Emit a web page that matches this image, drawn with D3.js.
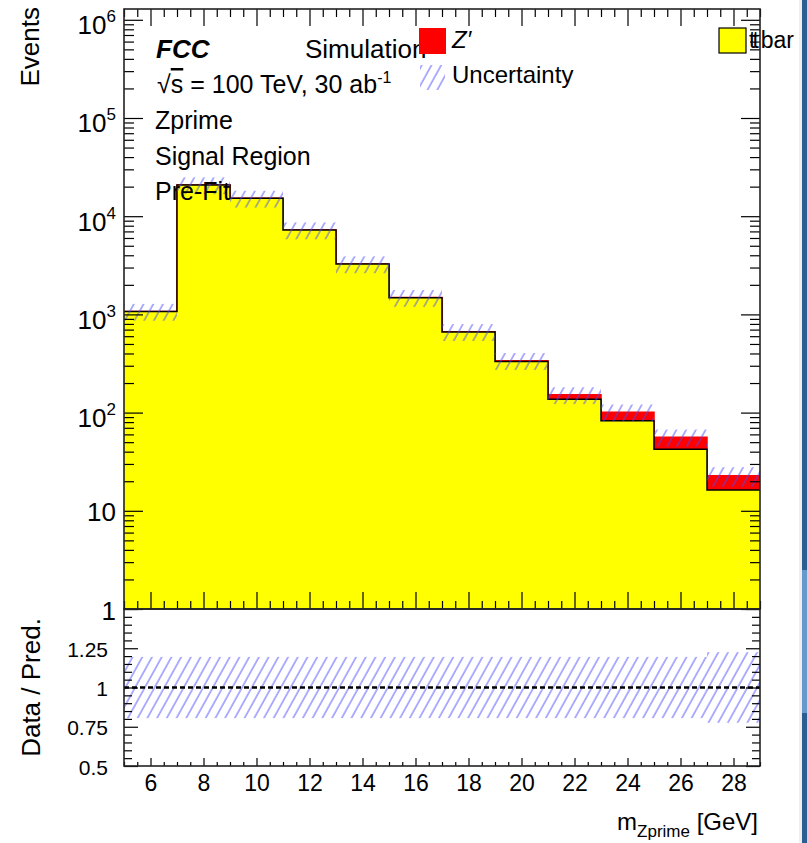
<!DOCTYPE html>
<html>
<head>
<meta charset="utf-8">
<script src="https://cdn.jsdelivr.net/npm/d3@7"></script>
<style>
  body { margin: 0; background: #fff; }
  svg { display: block; font-family: "Liberation Sans", Arial, Helvetica, sans-serif; }
</style>
</head>
<body>
<svg id="chart" width="807" height="843"></svg>
<script>
// ---- histogram content (bin edges in GeV, event yields per bin) ----
const binEdges = [5, 7, 9, 11, 13, 15, 17, 19, 21, 23, 25, 27, 29];
const ttbarYield = [1070, 20800, 15200, 7230, 3260, 1480, 662, 331, 137, 82.8, 42.3, 16.3];
const zprimeYield = [0.3, 0.6, 1.0, 1.3, 1.8, 2.5, 4, 7, 14.6, 18.3, 13.9, 6.4];
const relUncertainty = [0.195, 0.195, 0.195, 0.195, 0.195, 0.195, 0.195, 0.195, 0.195, 0.195, 0.195, 0.225];

// ---- axis ticks ----
const xMajorTicks = [6, 8, 10, 12, 14, 16, 18, 20, 22, 24, 26, 28];
const yMajorTicks = [1, 10, 100, 1e3, 1e4, 1e5, 1e6];
const ratioMajorTicks = [0.5, 0.75, 1, 1.25, 1.5];
const ratioTickLabels = ["0.5", "0.75", "1", "1.25", ""];

// ---- text ----
const infoLines = ["Zprime", "Signal Region", "Pre-Fit"];
const legendLabels = { zprime: "Z\u2032", unc: "Uncertainty", ttbar: "bar" };

const svg = d3.select("#chart");
svg.append("rect").attr("width", 807).attr("height", 843).attr("fill", "#fff");

// panel geometry
const L = 124, R = 760, mainTop = 9, mainBot = 609, ratioBot = 766;

const x = d3.scaleLinear().domain([5, 29]).range([L, R]);
const y = d3.scaleLog().domain([1, 1.288e6]).range([mainBot, mainTop]);
const yr = d3.scaleLinear().domain([0.5, 1.5]).range([ratioBot, mainBot]);

// hatch pattern for the uncertainty band
const defs = svg.append("defs");
defs.append("pattern")
  .attr("id", "hatch").attr("patternUnits", "userSpaceOnUse")
  .attr("width", 8.5).attr("height", 10)
  .attr("patternTransform", "rotate(29)")
  .append("line")
  .attr("x1", 1).attr("y1", 0).attr("x2", 1).attr("y2", 10)
  .attr("stroke", "#4848ff").attr("stroke-width", 0.9);
defs.append("clipPath").attr("id", "clipMain")
  .append("rect").attr("x", L).attr("y", mainTop).attr("width", R - L).attr("height", mainBot - mainTop);
defs.append("clipPath").attr("id", "clipRatio")
  .append("rect").attr("x", L).attr("y", mainBot).attr("width", R - L).attr("height", ratioBot - mainBot);

// step-shaped point list for a binned histogram
function stepPoints(vals) {
  const pts = [];
  vals.forEach((v, i) => { pts.push([binEdges[i], v]); pts.push([binEdges[i + 1], v]); });
  return pts;
}
const totalYield = ttbarYield.map((v, i) => v + zprimeYield[i]);

const area = d3.area().x(d => x(d[0])).y0(y(1)).y1(d => y(d[1]));
const line = d3.line().x(d => x(d[0])).y(d => y(d[1]));

const gMain = svg.append("g").attr("clip-path", "url(#clipMain)");
// stacked histogram: total (Z' on top) then ttbar
gMain.append("path").datum(stepPoints(totalYield)).attr("d", area).attr("fill", "#ff0000");
gMain.append("path").datum(stepPoints(totalYield)).attr("d", line)
  .attr("fill", "none").attr("stroke", "#ff0000").attr("stroke-width", 1.5);
gMain.append("path").datum(stepPoints(ttbarYield)).attr("d", area).attr("fill", "#ffff00");
gMain.append("path").datum(stepPoints(ttbarYield)).attr("d", line)
  .attr("fill", "none").attr("stroke", "#000").attr("stroke-width", 1.5);

// uncertainty band on the total prediction
gMain.selectAll("rect.unc").data(totalYield).join("rect").attr("class", "unc")
  .attr("x", (d, i) => x(binEdges[i]))
  .attr("width", (d, i) => x(binEdges[i + 1]) - x(binEdges[i]))
  .attr("y", (d, i) => y(d * (1 + relUncertainty[i])))
  .attr("height", (d, i) => y(d * (1 - relUncertainty[i])) - y(d * (1 + relUncertainty[i])))
  .attr("fill", "url(#hatch)");

// ratio panel
const gRatio = svg.append("g").attr("clip-path", "url(#clipRatio)");
gRatio.selectAll("rect.unc").data(relUncertainty).join("rect").attr("class", "unc")
  .attr("x", (d, i) => x(binEdges[i]))
  .attr("width", (d, i) => x(binEdges[i + 1]) - x(binEdges[i]))
  .attr("y", d => yr(1 + d))
  .attr("height", d => yr(1 - d) - yr(1 + d))
  .attr("fill", "url(#hatch)");
gRatio.append("path")
  .datum([[5, 1], [29, 1]])
  .attr("d", d3.line().x(d => x(d[0])).y(d => yr(d[1])))
  .attr("stroke", "#000").attr("stroke-width", 2.5).attr("stroke-dasharray", "5,3").attr("fill", "none");

// ---- axes ----
function styleAxis(g) {
  g.select(".domain").remove();
  g.selectAll(".tick line").attr("stroke", "#000").attr("stroke-width", 1.2);
  g.attr("font-family", null).attr("font-size", null);
}
const noLabel = () => "";

const xMinor = d3.range(5, 29.001, 0.5).filter(v => v % 2 !== 0);
const yMinor = [];
yMajorTicks.forEach(d => { for (let k = 2; k <= 9; k++) { if (k * d <= y.domain()[1]) yMinor.push(k * d); } });
const ratioMinor = d3.range(0.5, 1.5001, 0.05).filter(v => Math.abs(v * 4 - Math.round(v * 4)) > 1e-6);

// main panel ticks
[[d3.axisTop, mainTop], [d3.axisBottom, mainBot]].forEach(([ax, yy]) => {
  svg.append("g").attr("transform", `translate(0,${yy})`)
    .call(ax(x).tickValues(xMajorTicks).tickSize(-17).tickFormat(noLabel)).call(styleAxis);
  svg.append("g").attr("transform", `translate(0,${yy})`)
    .call(ax(x).tickValues(xMinor).tickSize(-8).tickFormat(noLabel)).call(styleAxis);
});
svg.append("g").attr("transform", `translate(${R},0)`)
  .call(d3.axisRight(y).tickValues(yMajorTicks).tickSize(-19).tickFormat(noLabel)).call(styleAxis);
svg.append("g").attr("transform", `translate(${R},0)`)
  .call(d3.axisRight(y).tickValues(yMinor).tickSize(-10).tickFormat(noLabel)).call(styleAxis);
svg.append("g").attr("transform", `translate(${L},0)`)
  .call(d3.axisLeft(y).tickValues(yMinor).tickSize(-10).tickFormat(noLabel)).call(styleAxis);
const gyMain = svg.append("g").attr("transform", `translate(${L},0)`)
  .call(d3.axisLeft(y).tickValues(yMajorTicks).tickSize(-19).tickPadding(8).tickFormat(noLabel))
  .call(styleAxis);
gyMain.selectAll(".tick text").each(function (v) {
  const e = Math.round(Math.log10(v));
  const t = d3.select(this).attr("dy", null).attr("font-size", 26).attr("fill", "#000");
  if (e >= 2) {
    t.attr("y", 14);
    t.append("tspan").text("10");
    t.append("tspan").attr("font-size", 17).attr("dy", -12).text(e);
  } else {
    t.attr("y", 10).text(e === 1 ? "10" : "1");
  }
});

// ratio panel ticks
const gxRatio = svg.append("g").attr("transform", `translate(0,${ratioBot})`)
  .call(d3.axisBottom(x).tickValues(xMajorTicks).tickSize(-8).tickPadding(9).tickFormat(d3.format("d")))
  .call(styleAxis);
gxRatio.selectAll(".tick text").attr("font-size", 23).attr("fill", "#000");
svg.append("g").attr("transform", `translate(0,${ratioBot})`)
  .call(d3.axisBottom(x).tickValues(xMinor).tickSize(-4).tickFormat(noLabel)).call(styleAxis);

const gyRatio = svg.append("g").attr("transform", `translate(${L},0)`)
  .call(d3.axisLeft(yr).tickValues(ratioMajorTicks).tickSize(-14).tickPadding(16)
    .tickFormat((d, i) => ratioTickLabels[i]))
  .call(styleAxis);
gyRatio.selectAll(".tick text").attr("font-size", 21).attr("dy", null).attr("y", 8).attr("fill", "#000");
svg.append("g").attr("transform", `translate(${L},0)`)
  .call(d3.axisLeft(yr).tickValues(ratioMinor).tickSize(-8).tickFormat(noLabel)).call(styleAxis);
svg.append("g").attr("transform", `translate(${R},0)`)
  .call(d3.axisRight(yr).tickValues(ratioMajorTicks).tickSize(-14).tickFormat(noLabel)).call(styleAxis);
svg.append("g").attr("transform", `translate(${R},0)`)
  .call(d3.axisRight(yr).tickValues(ratioMinor).tickSize(-8).tickFormat(noLabel)).call(styleAxis);

// frames
[[mainTop, mainBot], [mainBot, ratioBot]].forEach(([t, b]) => {
  svg.append("rect").attr("x", L).attr("y", t).attr("width", R - L).attr("height", b - t)
    .attr("fill", "none").attr("stroke", "#222").attr("stroke-width", 1.6);
});

// axis titles
svg.append("text").attr("transform", "translate(39,7) rotate(-90)")
  .attr("text-anchor", "end").attr("font-size", 26).text("Events");
svg.append("text").attr("transform", `translate(40,${(mainBot + ratioBot) / 2}) rotate(-90)`)
  .attr("text-anchor", "middle").attr("font-size", 26).text("Data / Pred.");
const xt = svg.append("text").attr("x", 758).attr("y", 830).attr("text-anchor", "end").attr("font-size", 24);
xt.append("tspan").text("m");
xt.append("tspan").attr("font-size", 17).attr("dy", 7).text("Zprime");
xt.append("tspan").attr("dy", -7).text(" [GeV]");

// labels in the plot
svg.append("text").attr("x", 156).attr("y", 58).attr("font-size", 26)
  .attr("font-weight", "bold").attr("font-style", "italic").text("FCC");
svg.append("text").attr("x", 305).attr("y", 58).attr("font-size", 26).text("Simulation");
const energy = svg.append("text").attr("x", 157).attr("y", 93).attr("font-size", 25);
energy.append("tspan").text("\u221A");
energy.append("tspan").style("text-decoration", "overline").text("s");
energy.append("tspan").text(" = 100 TeV, 30 ab");
energy.append("tspan").attr("font-size", 16).attr("dy", -10).text("-1");
infoLines.forEach((s, i) => {
  svg.append("text").attr("x", 155).attr("y", 129 + i * 35.7).attr("font-size", 25).text(s);
});

// legend
svg.append("rect").attr("x", 419).attr("y", 28).attr("width", 27).attr("height", 26).attr("fill", "#ff0000");
svg.append("text").attr("x", 452).attr("y", 48).attr("font-size", 24).attr("font-style", "italic").text(legendLabels.zprime);
svg.append("rect").attr("x", 420).attr("y", 65).attr("width", 25).attr("height", 25).attr("fill", "url(#hatch)");
svg.append("text").attr("x", 452).attr("y", 83).attr("font-size", 24).text(legendLabels.unc);
svg.append("rect").attr("x", 719).attr("y", 28).attr("width", 27).attr("height", 25)
  .attr("fill", "#ffff00").attr("stroke", "#000").attr("stroke-width", 1.2);
const tl = svg.append("text").attr("x", 749).attr("y", 48).attr("font-size", 23);
tl.append("tspan").text("t");
tl.append("tspan").attr("dx", -3).text("t");
tl.append("tspan").attr("dx", 2).text(legendLabels.ttbar);

// window edge strip
svg.append("rect").attr("x", 799).attr("y", 0).attr("width", 3).attr("height", 843).attr("fill", "#eeeeee");
svg.append("rect").attr("x", 802).attr("y", 0).attr("width", 5).attr("height", 843).attr("fill", "#2b5f94");
svg.append("rect").attr("x", 802).attr("y", 570).attr("width", 5).attr("height", 143).attr("fill", "#6699cc");
</script>
</body>
</html>
